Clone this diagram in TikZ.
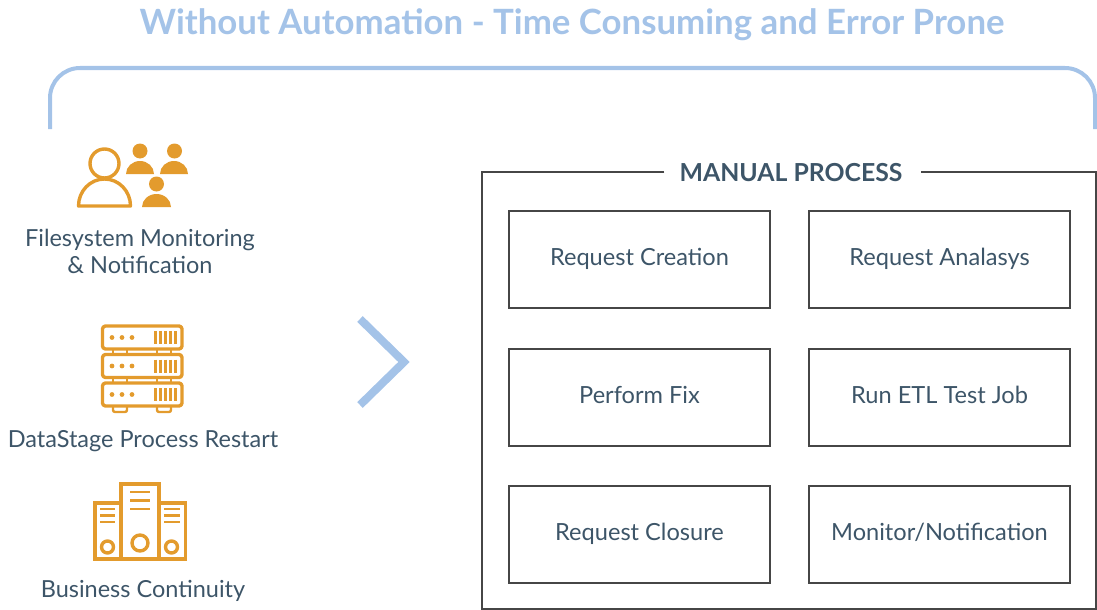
\documentclass[tikz,border=0pt]{standalone}
\usepackage{fontspec}
\setmainfont{Lato}
\usepackage{tikz}
\definecolor{txtcol}{HTML}{3D5568}
\definecolor{iconcol}{HTML}{E39B2D}
\definecolor{skycol}{HTML}{A4C3E8}
\definecolor{framecol}{HTML}{464646}
\tikzstyle{step box} = [draw=framecol, line width=2pt, minimum width=261pt, minimum height=97pt, inner sep=0pt, text=txtcol, text height=17.5pt, text depth=5pt, font={\fontsize{23.6}{27}\selectfont}]
\tikzstyle{caption} = [text=txtcol, align=center, inner sep=0pt, font={\fontsize{23.5}{27}\selectfont}]
\tikzstyle{heading} = [inner sep=0pt, font={\fontsize{34.8}{38}\selectfont\bfseries}, text=skycol]
\tikzstyle{icon} = [draw=iconcol, line width=3.4pt, line join=round]
\tikzstyle{thinicon} = [draw=iconcol, line width=2.4pt]
\tikzstyle{solidicon} = [fill=iconcol]

\begin{document}
\begin{tikzpicture}[x=1pt,y=-1pt]
        \useasboundingbox (0,0) rectangle (1097,610);
        \node[heading](title) at (572,24.5){Without Automation - Time Consuming and Error Prone};
        \draw[draw=skycol,line width=4pt,rounded corners=30pt] (50,129) -- (50,68) -- (1095,68) -- (1095,129);
        % people
        \draw[icon] (104.5,163.5) circle (14.5);
        \draw[icon] (78.5,206) arc[start angle=180,end angle=360,x radius=26,y radius=27] -- cycle;
        \fill[solidicon] (140,151) circle (7.5);
        \fill[solidicon] (126,174) arc[start angle=180,end angle=360,x radius=14,y radius=13] -- cycle;
        \fill[solidicon] (174.5,151) circle (7.5);
        \fill[solidicon] (160,174) arc[start angle=180,end angle=360,x radius=14,y radius=13] -- cycle;
        \fill[solidicon] (156.5,184) circle (7.5);
        \fill[solidicon] (142,207) arc[start angle=180,end angle=360,x radius=14.5,y radius=13] -- cycle;
        \node[caption](filesystem) at (140,251){Filesystem Monitoring\\\& Notification};
        % servers
        \foreach \top in {326,354.5,383}{
          \draw[icon,rounded corners=3pt] (102.5,\top) rectangle (182,\top+23);
          \foreach \dotx in {112,122,132}
            \fill[solidicon] (\dotx,\top+11.5) circle (2.4);
          \foreach \barx in {155.5,160.5,165.5,170.5,175.5}
            \draw[thinicon] (\barx,\top+5) -- (\barx,\top+18);
        }
        \foreach \legx in {113,127,157,171}{
          \draw[thinicon] (\legx,349) -- (\legx,354.5);
          \draw[thinicon] (\legx,377.5) -- (\legx,383);
        }
        \draw[thinicon,rounded corners=2pt] (113,406) -- (113,412) -- (127,412) -- (127,406);
        \draw[thinicon,rounded corners=2pt] (157,406) -- (157,412) -- (171,412) -- (171,406);
        \node[caption](datastage) at (143,441){DataStage Process Restart};
        % binders
        \draw[icon,line join=miter] (121,484) rectangle (159,559);
        \draw[icon,line join=miter] (121,503) -- (95,503) -- (95,559) -- (121,559);
        \draw[icon,line join=miter] (159,503) -- (185.5,503) -- (185.5,559) -- (159,559);
        \foreach \liney in {492,500.5,509}
          \draw[thinicon] (130,\liney) -- (150,\liney);
        \foreach \liney in {509,515.5,522}{
          \draw[thinicon] (100,\liney) -- (115,\liney);
          \draw[thinicon] (164,\liney) -- (180,\liney);
        }
        \draw[icon] (140,543) circle (8);
        \draw[icon] (107.5,547) circle (6);
        \draw[icon] (171.5,547) circle (6);
        \node[caption](continuity) at (143,591){Business Continuity};
        % chevron
        \draw[draw=skycol,line width=8pt] (360,319) -- (404,362) -- (360,405);
        % manual process
        \node[text=txtcol,inner sep=0pt,minimum width=257pt,font={\fontsize{24.8}{28}\selectfont\bfseries}](manual) at (791,172.5){MANUAL PROCESS};
        \draw[draw=framecol,line width=2pt] ([xshift=2pt]manual.west|-0,172) -- (482,172) -- (482,609) -- (1096,609) -- (1096,172) -- ([xshift=1pt]manual.east|-0,172);
        \node[step box](creation) at (639.5,259.5){Request Creation};
        \node[step box](analysis) at (939.5,259.5){Request Analasys};
        \node[step box](fix) at (639.5,397){Perform Fix};
        \node[step box](etl) at (939.5,397){Run ETL Test Job};
        \node[step box](closure) at (639.5,534.5){Request Closure};
        \node[step box](notify) at (939.5,534.5){Monitor/Notification};
      \end{tikzpicture}
\end{document}
